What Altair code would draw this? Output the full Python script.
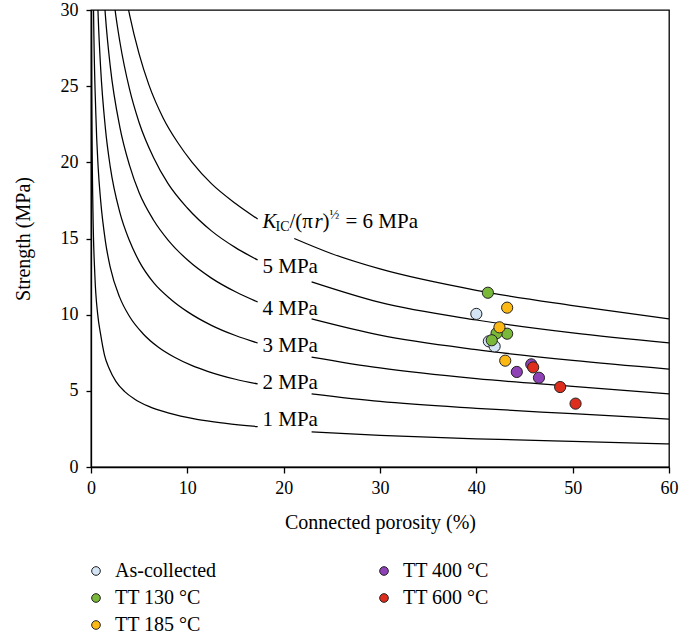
import altair as alt
import pandas as pd

FONT = "Liberation Serif"

# ---- Model curves K_IC/(pi r)^0.5 ----
# left segments (before the label gap) and right segments (after)
k1_xl = [0.03, 0.08, 0.2, 0.4, 0.7, 1.0, 1.4, 1.9, 2.6, 3.5, 4.5, 6, 8, 11, 14, 17.3]
k1_yl = [36.0, 24.5, 16.9, 12.6, 10.0, 8.7, 7.35, 6.45, 5.6, 4.95, 4.47, 3.98, 3.55, 3.13, 2.87, 2.65]
k1_xr = [22.9, 30, 40, 50, 60]
k1_yr = [2.3, 2.08, 1.85, 1.68, 1.52]

k2_xl = [0.1, 0.25, 0.5, 0.75, 1, 1.5, 2, 2.97, 4, 5.4, 7, 8.67, 10.5, 12.1, 15, 17.3]
k2_yl = [44.8, 30.8, 23.2, 19.6, 17.5, 14.8, 13.1, 11.15, 9.88, 8.75, 7.86, 7.2, 6.65, 6.28, 5.76, 5.45]
k2_xr = [22.9, 30, 40, 50, 60]
k2_yr = [4.8, 4.3, 3.85, 3.5, 3.15]

k3_xl = [0.4, 0.5, 0.75, 1, 1.5, 2, 3, 4, 5, 6.5, 8.3, 10, 12.5, 15, 17.3]
k3_yl = [38.1, 34.8, 29.5, 26.2, 22.2, 19.7, 16.7, 14.85, 13.5, 12.1, 11.0, 10.2, 9.3, 8.63, 8.14]
k3_xr = [22.9, 30, 40, 50, 60]
k3_yr = [7.22, 6.5, 5.8, 5.3, 4.8]

k4_xl = [0.75, 1, 1.5, 2, 3, 4, 5, 6.5, 8, 10, 12.5, 15, 17.3]
k4_yl = [39.3, 34.9, 29.6, 26.3, 22.3, 19.8, 18.0, 16.2, 14.9, 13.6, 12.4, 11.5, 10.83]
k4_xr = [22.9, 30, 40, 50, 60]
k4_yr = [9.72, 8.65, 7.7, 7.0, 6.43]

k5_xl = [1.5, 2, 2.5, 3, 4, 5, 6.5, 8, 10, 12.5, 15, 17.3]
k5_yl = [37.0, 32.9, 30.0, 27.9, 24.8, 22.6, 20.3, 18.6, 17.0, 15.5, 14.4, 13.59]
k5_xr = [22.9, 30, 40, 50, 60]
k5_yr = [12.15, 10.8, 9.65, 8.8, 8.14]

k6_xl = [3, 3.5, 4, 5, 6, 7.5, 9, 10.5, 12.5, 15, 17.3]
k6_yl = [33.4, 31.3, 29.7, 27.1, 25.1, 22.9, 21.3, 20.0, 18.6, 17.3, 16.28]
k6_xr = [21.1, 25, 30, 40, 50, 60]
k6_yr = [15.0, 14.0, 13.0, 11.6, 10.6, 9.72]

# ---- Measured samples ----
series_names = ["As-collected", "TT 130 °C", "TT 185 °C", "TT 400 °C", "TT 600 °C"]
series_colors = ["#D3E4F5", "#7AB83A", "#FDB913", "#8F42B6", "#DE2D1C"]

asc_x = [40.0, 41.3, 41.9]
asc_y = [10.05, 8.25, 7.92]
t130_x = [41.2, 43.2, 42.1, 41.6]
t130_y = [11.44, 8.75, 8.78, 8.32]
t185_x = [43.2, 42.4, 43.0]
t185_y = [10.46, 9.17, 6.98]
t400_x = [45.7, 44.2, 46.5]
t400_y = [6.74, 6.24, 5.86]
t600_x = [45.9, 48.7, 50.3]
t600_y = [6.54, 5.25, 4.16]

# ---- Curve labels ----
label_text = ["5 MPa", "4 MPa", "3 MPa", "2 MPa", "1 MPa"]
label_x = [17.8, 17.8, 17.8, 17.8, 17.8]
label_y = [13.1, 10.4, 7.94, 5.5, 3.09]
top_label_x = 17.8
top_label_y = 16.1

# ---- build tables ----
rows = []
for k, (xl, yl, xr, yr) in enumerate([
    (k1_xl, k1_yl, k1_xr, k1_yr), (k2_xl, k2_yl, k2_xr, k2_yr),
    (k3_xl, k3_yl, k3_xr, k3_yr), (k4_xl, k4_yl, k4_xr, k4_yr),
    (k5_xl, k5_yl, k5_xr, k5_yr), (k6_xl, k6_yl, k6_xr, k6_yr)], start=1):
    for xv, yv in zip(xl, yl):
        rows.append({"seg": f"{k}a", "x": xv, "y": yv})
    for xv, yv in zip(xr, yr):
        rows.append({"seg": f"{k}b", "x": xv, "y": yv})
curve_df = pd.DataFrame(rows)

pts = []
for name, xs, ys in zip(series_names,
                        [asc_x, t130_x, t185_x, t400_x, t600_x],
                        [asc_y, t130_y, t185_y, t400_y, t600_y]):
    for xv, yv in zip(xs, ys):
        pts.append({"series": name, "x": xv, "y": yv})
pts_df = pd.DataFrame(pts)

lab_df = pd.DataFrame({"t": label_text, "x": label_x, "y": label_y})
top_df = pd.DataFrame({"x": [top_label_x], "y": [top_label_y]})

xscale = alt.Scale(domain=[0, 60], nice=False, zero=False)
yscale = alt.Scale(domain=[0, 30], nice=False)

xaxis = alt.Axis(values=[0, 10, 20, 30, 40, 50, 60], title="Connected porosity (%)",
                 tickSize=6, labelPadding=6, titlePadding=15, labelFlush=False)
yaxis = alt.Axis(values=[0, 5, 10, 15, 20, 25, 30], title="Strength (MPa)",
                 tickSize=5, labelPadding=8, titlePadding=27, labelFlush=False)

X = alt.X("x:Q", scale=xscale, axis=xaxis)
Y = alt.Y("y:Q", scale=yscale, axis=yaxis)

lines = alt.Chart(curve_df).mark_line(color="black", strokeWidth=1.25, clip=True,
                                      interpolate="monotone").encode(
    x=X, y=Y, detail="seg:N", order="x:Q")

points = alt.Chart(pts_df).mark_circle(size=125, opacity=1, stroke="#222222",
                                       strokeWidth=1).encode(
    x=X, y=Y,
    color=alt.Color("series:N",
                    scale=alt.Scale(domain=series_names, range=series_colors),
                    legend=alt.Legend(title=None, orient="none", legendX=-5, legendY=551,
                                      columns=2, columnPadding=157, rowPadding=7,
                                      symbolType="circle", symbolSize=75,
                                      symbolStrokeColor="#222222", symbolStrokeWidth=1,
                                      symbolOpacity=1, labelFont=FONT, labelFontSize=20,
                                      labelColor="black", labelOffset=9, labelLimit=300)))

labels = alt.Chart(lab_df).mark_text(align="left", baseline="middle", font=FONT,
                                     fontSize=21, color="black").encode(
    x=X, y=Y, text="t:N")

def part(txt, dx, dy=0, size=21, style="normal"):
    return alt.Chart(top_df).mark_text(align="left", baseline="middle", font=FONT,
                                       fontSize=size, fontStyle=style, color="black",
                                       dx=dx, dy=dy).encode(
        x=X, y=Y, text=alt.value(txt))

top_label = alt.layer(
    part("K", 0, style="italic"),
    part("IC", 13, dy=5, size=14),
    part("/(π", 27),
    part("r", 52, style="italic"),
    part(")", 60),
    part("½", 67, dy=-7, size=13),
    part("= 6 MPa", 83),
)

chart = alt.layer(lines, points, labels, top_label).properties(
    width=578, height=457,
    padding={"left": 91, "top": 10, "right": 10, "bottom": 174},
    autosize=alt.AutoSizeParams(type="none"),
    background="white",
).configure_view(stroke="black", strokeWidth=1.3).configure_axis(
    grid=False, domainColor="black", domainWidth=1.3, tickColor="black", tickWidth=1.3,
    labelColor="black", titleColor="black", labelFont=FONT, titleFont=FONT,
    labelFontSize=18, titleFontSize=20, titleFontWeight="normal",
)

chart.save("out.html", embed_options={"renderer": "svg", "actions": False})
